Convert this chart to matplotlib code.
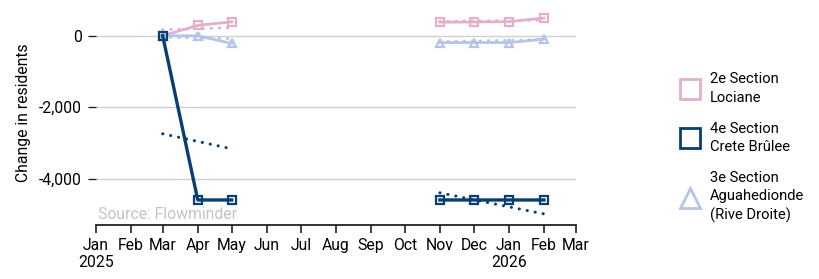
import numpy as np
import pandas as pd
import matplotlib
matplotlib.use("Agg")
import matplotlib.pyplot as plt
import matplotlib.dates as mdates
from matplotlib.lines import Line2D
from matplotlib.ticker import FuncFormatter

plt.rcParams['font.family'] = ['Roboto', 'DejaVu Sans']

months = pd.date_range("2025-03-01", "2026-02-01", freq="MS")
nan = np.nan
lociane = [0, 290, 390, nan, nan, nan, nan, nan, 380, 385, 395, 495]
crete = [0, -4590, -4590, nan, nan, nan, nan, nan, -4590, -4590, -4590, -4590]
aguahedionde = [0, 0, -215, nan, nan, nan, nan, nan, -190, -190, -190, -95]

# dotted trend lines, one per segment: (start, end)
trend_dates = [(pd.Timestamp("2025-03-01"), pd.Timestamp("2025-05-01")),
               (pd.Timestamp("2025-11-01"), pd.Timestamp("2026-02-01"))]
lociane_trend = [(170, 225), (400, 440)]
crete_trend = [(-2740, -3160), (-4390, -4980)]
agua_trend = [(-40, -80), (-160, -110)]

labels = ["2e Section\nLociane", "4e Section\nCrete Brûlee",
          "3e Section\nAguahedionde\n(Rive Droite)"]
colors = ["#e3afcb", "#073f72", "#b5c5e5"]
markers = ["s", "s", "^"]

fig = plt.figure(figsize=(8.2, 2.79), dpi=100)
ax = fig.add_axes([0.117, 0.1935, 0.585, 0.8065])

series = [lociane, crete, aguahedionde]
trends = [lociane_trend, crete_trend, agua_trend]
order = [0, 2, 1]
for i in order:
    ax.plot(months, series[i], color=colors[i], lw=2.4 if i == 1 else 2,
            marker=markers[i], ms=6.2, mfc="none", mew=1.6, zorder=3 + (i == 1))
    for (d0, d1), (v0, v1) in zip(trend_dates, trends[i]):
        ax.plot([d0, d1], [v0, v1], color=colors[i], lw=2.2,
                ls=(0, (0.05, 2.6)), dash_capstyle="round", zorder=2)

ax.set_xlim(pd.Timestamp("2025-01-01"), pd.Timestamp("2026-03-01"))
ax.set_ylim(-5290, 1000)
ax.set_yticks([0, -2000, -4000])
ax.yaxis.set_major_formatter(FuncFormatter(lambda v, p: f"{int(v):,}"))
ax.grid(axis="y", color="#d0d0d0", lw=1)
ax.set_axisbelow(True)

ax.xaxis.set_major_locator(mdates.MonthLocator())
def month_fmt(x, pos):
    d = mdates.num2date(x)
    if d.month == 1:
        return d.strftime("%b\n%Y")
    return d.strftime("%b")
ax.xaxis.set_major_formatter(FuncFormatter(month_fmt))

for s in ["top", "right", "left"]:
    ax.spines[s].set_visible(False)
ax.spines["bottom"].set_color("#222222")
ax.spines["bottom"].set_linewidth(1.3)
ax.tick_params(axis="x", length=6, width=1.2, color="#222222", labelsize=11.3, pad=3)
ax.tick_params(axis="y", length=6, width=1, color="#222222", labelsize=11.3, pad=4)
ax.set_ylabel("Change in residents", fontsize=11.3, labelpad=6)

ax.text(0.004, 0.012, "Source: Flowminder", transform=ax.transAxes,
        color="#c4c4c4", fontsize=11.3, ha="left", va="bottom")

handles = [Line2D([], [], ls="none", marker=markers[i], color=colors[i],
                  mfc="none", ms=14.5, mew=2) for i in range(3)]
leg = fig.legend(handles, labels, loc="center left", bbox_to_anchor=(0.815, 0.47),
                 frameon=False, fontsize=10.6, labelspacing=1.15, handlelength=1.2,
                 handletextpad=0.7)
for t in leg.get_texts():
    t.set_linespacing(1.4)

fig.savefig("out.png", dpi=100)
